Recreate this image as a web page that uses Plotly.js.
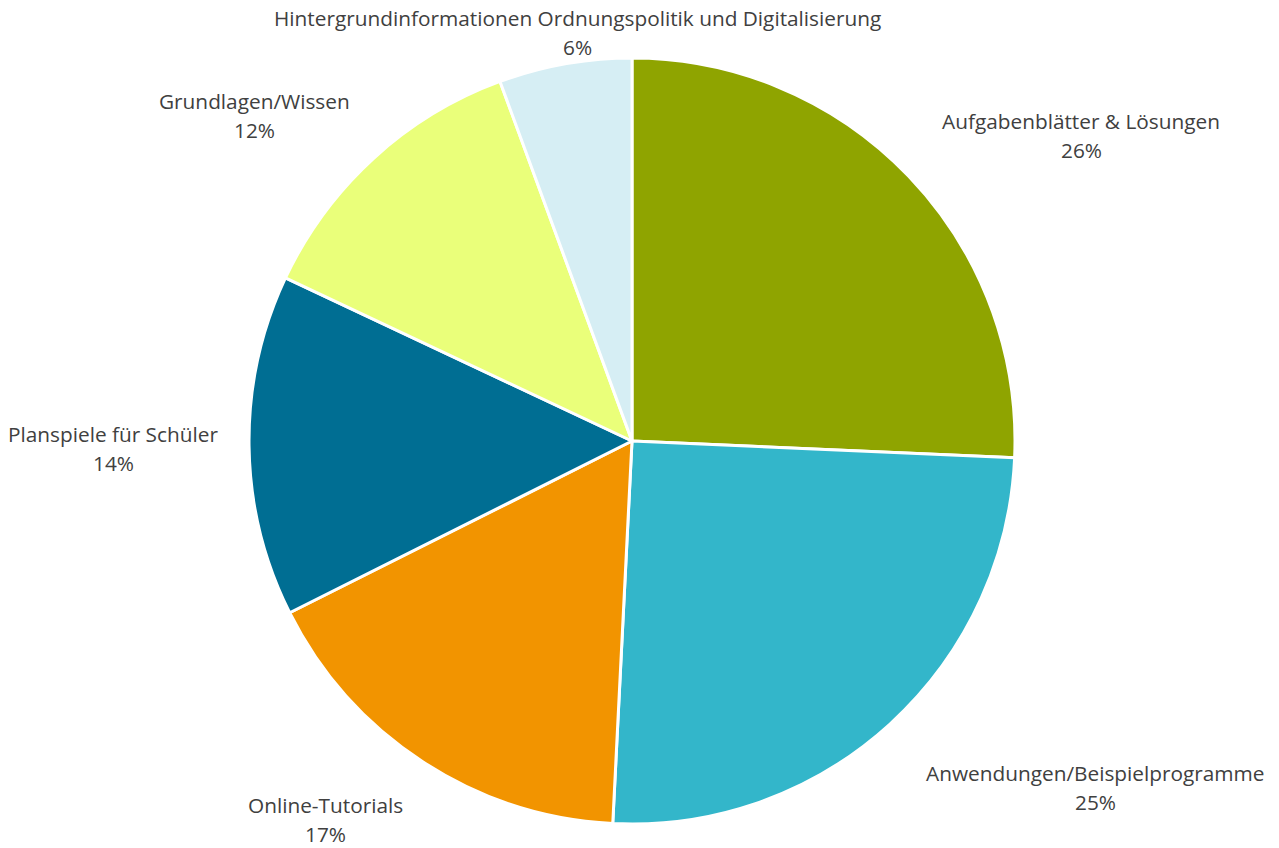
<!DOCTYPE html>
<html>
<head>
<meta charset="utf-8">
<script src="https://cdn.plot.ly/plotly-3.0.1.min.js"></script>
<style>
  body { margin: 0; background: #fff; }
  #chart { width: 1279px; height: 848px; }
</style>
</head>
<body>
<div id="chart"></div>
<script>
// slices clockwise from 12 o'clock
var categories = ['Aufgabenblätter & Lösungen', 'Anwendungen/Beispielprogramme', 'Online-Tutorials',
  'Planspiele für Schüler', 'Grundlagen/Wissen', 'Hintergrundinformationen Ordnungspolitik und Digitalisierung'];
var shares = [25.7, 25.1, 16.8, 14.4, 12.4, 5.6];
var colors = ['#8FA400', '#33B6CA', '#F29400', '#006E93', '#EAFF7A', '#D6EEF4'];

// label centre positions in pixels (Excel-style data labels)
var labelPos = [[1081, 121], [1095, 773], [325, 805], [113, 434], [254, 101], [577, 18]];

var W = 1279, H = 848;
var cx = 632, cy = 441, r = 383;

var total = shares.reduce(function (a, b) { return a + b; }, 0);

var annotations = [];
categories.forEach(function (c, i) {
  var pct = Math.round(shares[i] / total * 100) + '%';
  var p = labelPos[i];
  [[c, p[1]], [pct, p[1] + 29]].forEach(function (t) {
    annotations.push({
      text: t[0], xref: 'paper', yref: 'paper',
      x: p[0] / W, y: 1 - t[1] / H, xanchor: 'center', yanchor: 'middle',
      showarrow: false, font: {family: 'Open Sans, sans-serif', size: 20.8, color: '#404040'}
    });
  });
});

var data = [{
  type: 'pie',
  labels: categories,
  values: shares,
  sort: false,
  direction: 'clockwise',
  rotation: 0,
  textinfo: 'none',
  hoverinfo: 'label+percent',
  marker: {colors: colors, line: {color: '#ffffff', width: 3}},
  domain: {x: [(cx - r) / W, (cx + r) / W], y: [1 - (cy + r) / H, 1 - (cy - r) / H]}
}];

var layout = {
  width: W, height: H,
  margin: {l: 0, r: 0, t: 0, b: 0},
  showlegend: false,
  paper_bgcolor: '#ffffff',
  annotations: annotations
};

Plotly.newPlot('chart', data, layout, {displayModeBar: false});
</script>
</body>
</html>
